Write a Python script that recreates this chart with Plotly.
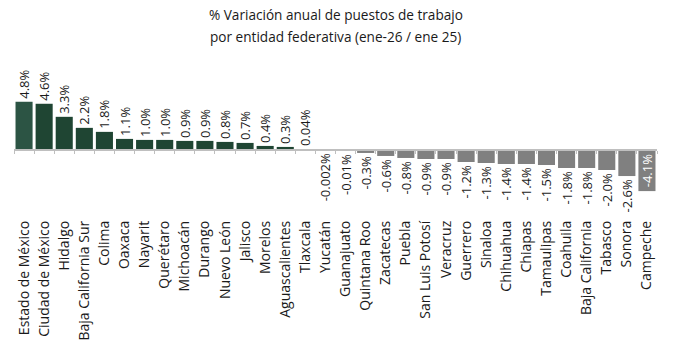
import plotly.graph_objects as go

categories = ["Estado de México", "Ciudad de México", "Hidalgo", "Baja California Sur", "Colima",
              "Oaxaca", "Nayarit", "Querétaro", "Michoacán", "Durango", "Nuevo León", "Jalisco",
              "Morelos", "Aguascalientes", "Tlaxcala", "Yucatán", "Guanajuato", "Quintana Roo",
              "Zacatecas", "Puebla", "San Luis Potosí", "Veracruz", "Guerrero", "Sinaloa",
              "Chihuahua", "Chiapas", "Tamaulipas", "Coahuila", "Baja California", "Tabasco",
              "Sonora", "Campeche"]
values = [4.8, 4.6, 3.3, 2.2, 1.8, 1.1, 1.0, 1.0, 0.9, 0.9, 0.8, 0.7, 0.4, 0.3, 0.04,
          -0.002, -0.01, -0.3, -0.6, -0.8, -0.9, -0.9, -1.2, -1.3, -1.4, -1.4, -1.5, -1.8,
          -1.8, -2.0, -2.6, -4.1]
labels = [f"{v}%" for v in values]
title_lines = ["% Variación anual de puestos de trabajo",
               "por entidad federativa (ene-26 / ene 25)"]

GREEN = "#1f4533"
GREEN_FIRST = "#2c5444"
GRAY = "#808080"

colors = []
for i, v in enumerate(values):
    if v >= 0:
        colors.append(GREEN_FIRST if i == 0 else GREEN)
    else:
        colors.append(GRAY)

min_v = min(values)
positions = ["inside" if v == min_v else "outside" for v in values]
text_colors = ["#ffffff" if v == min_v else "#1a1a1a" for v in values]

ymin, ymax = -6.68, 8.96
n = len(categories)
TOP, BOTTOM, H = 60, 137, 354
plot_h = H - TOP - BOTTOM

fig = go.Figure()
fig.add_trace(go.Bar(
    x=categories, y=values, marker=dict(color=colors, line=dict(width=0)),
    text=labels, textposition=positions, textangle=-90,
    insidetextanchor="middle",
    textfont=dict(family="Open Sans", size=13, color=text_colors),
    constraintext="none", cliponaxis=False, hoverinfo="skip",
))
# invisible trace to carry the zero-line axis
fig.add_trace(go.Scatter(x=[0], y=[0], xaxis="x2", mode="markers",
                         marker=dict(opacity=0), showlegend=False, hoverinfo="skip"))

annotations = []
for k, (line, ypx) in enumerate(zip(title_lines, [14, 36])):
    annotations.append(dict(
        text=line, x=0.5, xref="paper", y=1 + (TOP - ypx) / plot_h, yref="paper",
        yanchor="middle", showarrow=False,
        font=dict(size=13.6, color="#1a1a1a")))

fig.update_layout(
    width=673, height=H,
    margin=dict(l=14, r=16, t=TOP, b=BOTTOM),
    paper_bgcolor="white", plot_bgcolor="white",
    bargap=0.15, showlegend=False,
    font=dict(family="Open Sans", color="#1a1a1a"),
    xaxis=dict(type="category", tickangle=-90, showline=False, ticks="",
               showgrid=False, tickfont=dict(size=14, color="#1a1a1a")),
    xaxis2=dict(overlaying="x", anchor="free", position=(0 - ymin) / (ymax - ymin),
                side="bottom", range=[-0.5, n - 0.5], showline=True, linecolor="#bfbfbf",
                linewidth=1.5, ticks="outside", ticklen=3, tickcolor="#bfbfbf",
                tickvals=[i - 0.5 for i in range(n + 1)], showticklabels=False,
                showgrid=False, zeroline=False),
    yaxis=dict(range=[ymin, ymax], visible=False, showgrid=False, zeroline=False),
    annotations=annotations,
)
fig.write_html("out.html")
